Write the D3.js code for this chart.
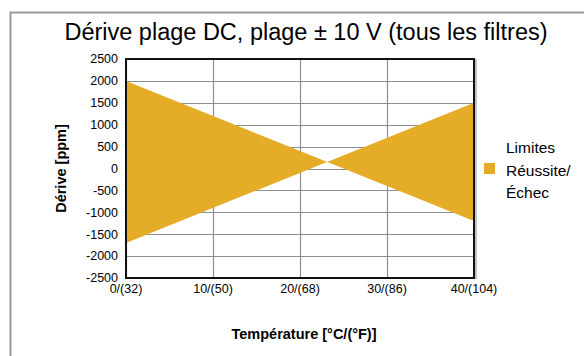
<!DOCTYPE html>
<html>
  <head>
    <meta charset="utf-8">
    <title>Dérive plage DC</title>
    <script type="text/javascript" src="https://cdn.jsdelivr.net/npm/d3@7"></script>
    <style type="text/css">
      body { margin: 0; background: #fff; }
      text { font-family: "Liberation Sans", Arial, sans-serif; fill: #000; }
    </style>
  </head>
  <body>
    <script>
      // data
      var tempC = [0, 40];
      var limitA = [2000, -1200];   // starts high, ends low
      var limitB = [-1700, 1500];   // starts low, ends high
      var xTicks = [0, 10, 20, 30, 40];
      var xTickLabels = ["0/(32)", "10/(50)", "20/(68)", "30/(86)", "40/(104)"];
      var yTicks = d3.range(-2500, 2501, 500);

      var w = 584, h = 356;
      // plot box (note: "top" is taken by window.top)
      var pL = 126, pR = 474, pT = 59, pB = 278;

      var svg = d3.select("body").append("svg")
                  .attr("width", w)
                  .attr("height", h);

      // outer frame (runs off the page right and bottom)
      svg.append("rect")
         .attr("x", 10.5).attr("y", 12.5)
         .attr("width", 600).attr("height", 400)
         .style("fill", "none")
         .style("stroke", "#9a9a9a")
         .style("stroke-width", 2);

      var x = d3.scaleLinear().domain([0, 40]).range([pL, pR]);
      var y = d3.scaleLinear().domain([-2500, 2500]).range([pB, pT]);

      // gridlines
      svg.append("g").selectAll("line")
         .data(yTicks)
         .enter().append("line")
         .attr("x1", pL).attr("x2", pR)
         .attr("y1", function(d) { return Math.round(y(d)) + 0.5; })
         .attr("y2", function(d) { return Math.round(y(d)) + 0.5; })
         .style("stroke", "#8f8f8f")
         .style("stroke-width", 1.2);

      svg.append("g").selectAll("line")
         .data(xTicks)
         .enter().append("line")
         .attr("y1", pT).attr("y2", pB)
         .attr("x1", function(d) { return Math.round(x(d)) + 0.5; })
         .attr("x2", function(d) { return Math.round(x(d)) + 0.5; })
         .style("stroke", "#8f8f8f")
         .style("stroke-width", 1.2);

      // pass/fail band
      var rows = tempC.map(function(t, i) { return { t: t, a: limitA[i], b: limitB[i] }; });
      var area = d3.area()
                   .x(function(d) { return x(d.t); })
                   .y0(function(d) { return y(d.a); })
                   .y1(function(d) { return y(d.b); });

      svg.append("path")
         .datum(rows)
         .attr("d", area)
         .style("fill", "#e5ac28");

      // plot frame
      svg.append("line")
         .attr("x1", pR + 2).attr("x2", pR + 2)
         .attr("y1", pT).attr("y2", pB + 1)
         .style("stroke", "#b0b0b0").style("stroke-width", 1.5);
      svg.append("rect")
         .attr("x", pL).attr("y", pT)
         .attr("width", pR - pL).attr("height", pB - pT)
         .style("fill", "none")
         .style("stroke", "#111")
         .style("stroke-width", 2);

      // y axis labels
      svg.append("g").selectAll("text")
         .data(yTicks)
         .enter().append("text")
         .attr("x", pL - 8)
         .attr("y", function(d) { return y(d); })
         .attr("dy", "0.35em")
         .style("text-anchor", "end")
         .style("font-size", "12.5px")
         .text(function(d) { return d; });

      // x axis labels
      svg.append("g").selectAll("text")
         .data(xTicks)
         .enter().append("text")
         .attr("x", function(d) { return x(d); })
         .attr("y", pB + 15)
         .style("text-anchor", "middle")
         .style("font-size", "12.5px")
         .text(function(d, i) { return xTickLabels[i]; });

      // titles
      svg.append("text")
         .attr("x", 306).attr("y", 40)
         .style("text-anchor", "middle")
         .style("font-size", "23.5px")
         .text("Dérive plage DC, plage ± 10 V (tous les filtres)");

      svg.append("text")
         .attr("x", 304).attr("y", 339)
         .style("text-anchor", "middle")
         .style("font-size", "14.5px")
         .style("font-weight", "bold")
         .text("Température [°C/(°F)]");

      svg.append("text")
         .attr("transform", "translate(66," + ((pT + pB) / 2) + ") rotate(-90)")
         .style("text-anchor", "middle")
         .style("font-size", "14.5px")
         .style("font-weight", "bold")
         .text("Dérive [ppm]");

      // legend
      svg.append("rect")
         .attr("x", 484).attr("y", 163)
         .attr("width", 11).attr("height", 11)
         .style("fill", "#e5ac28");

      var legend = svg.append("text")
         .attr("x", 506).attr("y", 153)
         .style("font-size", "15.5px");
      ["Limites", "Réussite/", "Échec"].forEach(function(s, i) {
        legend.append("tspan")
              .attr("x", 506)
              .attr("dy", i === 0 ? 0 : 22.5)
              .text(s);
      });
    </script>
  </body>
</html>
